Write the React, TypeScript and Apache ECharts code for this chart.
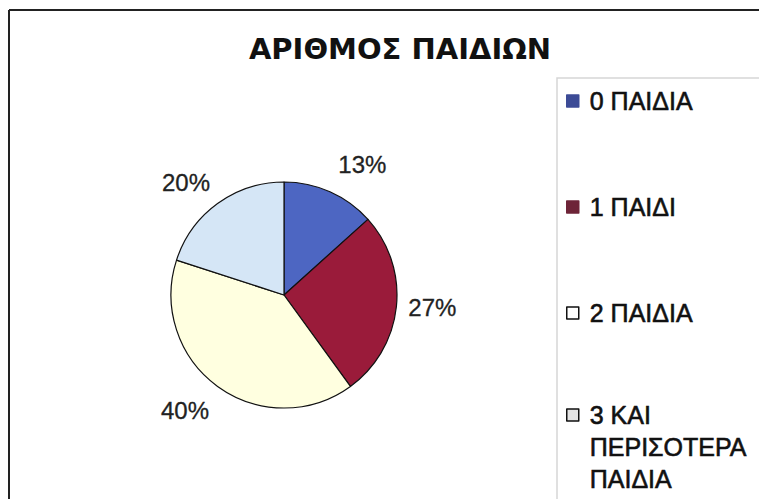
import React, { useEffect, useRef } from "react";
import * as echarts from "echarts";

const titleText = "ΑΡΙΘΜΟΣ ΠΑΙΔΙΩΝ";
const categories = ["0 ΠΑΙΔΙΑ", "1 ΠΑΙΔΙ", "2 ΠΑΙΔΙΑ", "3 ΚΑΙ ΠΕΡΙΣΟΤΕΡΑ ΠΑΙΔΙΑ"];
const legendLabels = ["0 ΠΑΙΔΙΑ", "1 ΠΑΙΔΙ", "2 ΠΑΙΔΙΑ", "3 ΚΑΙ\nΠΕΡΙΣΟΤΕΡΑ\nΠΑΙΔΙΑ"];
const values = [2, 4, 6, 3];
const sliceColors = ["#4d66c2", "#9a1b3a", "#ffffe0", "#d5e6f6"];
const legendColors = ["#3c4b96", "#6e2438", "#ffffff", "#e4e4e4"];
const legendBorders = ["#3c4b96", "#6e2438", "#111111", "#111111"];

const FONT = "Liberation Sans, Arial, sans-serif";

export default function App() {
  const ref = useRef<HTMLDivElement>(null);
  useEffect(() => {
    if (!ref.current) return;
    const chart = echarts.init(ref.current, undefined, { renderer: "svg" });
    const lineH = 32;
    const legendItem = (i: number) => ({
      name: categories[i],
      itemStyle: { color: legendColors[i], borderColor: legendBorders[i], borderWidth: 1.5 },
    });
    const legendBase = {
      orient: "vertical",
      left: 561,
      height: 800,
      itemWidth: 12,
      itemHeight: 12,
      itemGap: 74,
      icon: "rect",
      selectedMode: false,
      textStyle: {
        fontFamily: FONT,
        fontSize: 25,
        color: "#111",
        lineHeight: lineH,
        padding: [0, 0, 0, 6],
        textBorderColor: "#111",
        textBorderWidth: 0.6,
      },
    };
    // label nudges to mimic the spreadsheet's label placement
    const labelShift = [
      [-4, -11],
      [-11, -1],
      [7, 10],
      [8, -7],
    ];
    chart.setOption({
      animation: false,
      backgroundColor: "#ffffff",
      title: {
        text: titleText,
        left: 395,
        textAlign: "center",
        top: 29,
        textStyle: { fontFamily: "DejaVu Sans, sans-serif", fontSize: 29, fontWeight: "bold", color: "#111" },
      },
      legend: [
        {
          ...legendBase,
          top: 80,
          formatter: (name: string) => legendLabels[categories.indexOf(name)],
          data: [0, 1, 2].map(legendItem),
        },
        {
          ...legendBase,
          top: 330,
          formatter: (name: string) => "\n\n" + legendLabels[categories.indexOf(name)],
          data: [3].map(legendItem),
        },
      ],
      graphic: [
        { type: "line", shape: { x1: 9, y1: 10, x2: 9, y2: 499 }, style: { stroke: "#222", lineWidth: 2 } },
        { type: "line", shape: { x1: 9, y1: 10, x2: 759, y2: 10 }, style: { stroke: "#222", lineWidth: 2 } },
        { type: "rect", shape: { x: 557, y: 78, width: 260, height: 460 }, style: { fill: "none", stroke: "#d6d6d6", lineWidth: 1.5 }, z: -1 },
      ],
      series: [
        {
          type: "pie",
          center: [284, 295],
          radius: 113,
          startAngle: 90,
          clockwise: true,
          data: categories.map((c, i) => ({ name: c, value: values[i], itemStyle: { color: sliceColors[i] } })),
          itemStyle: { borderColor: "#111", borderWidth: 1.2 },
          label: {
            show: true,
            position: "outside",
            formatter: (p: any) => Math.round(p.percent) + "%",
            fontFamily: FONT,
            fontSize: 24,
            color: "#222",
            textBorderColor: "#222",
            textBorderWidth: 0.3,
          },
          labelLine: { show: false, length: 18, length2: 0 },
          labelLayout: (p: any) => ({ dx: labelShift[p.dataIndex][0], dy: labelShift[p.dataIndex][1] }),
          emphasis: { disabled: true },
        },
      ],
    });
    return () => chart.dispose();
  }, []);
  return (
    <div
      ref={ref}
      style={{ position: "fixed", left: 0, top: 0, width: 759, height: 499 }}
    />
  );
}
